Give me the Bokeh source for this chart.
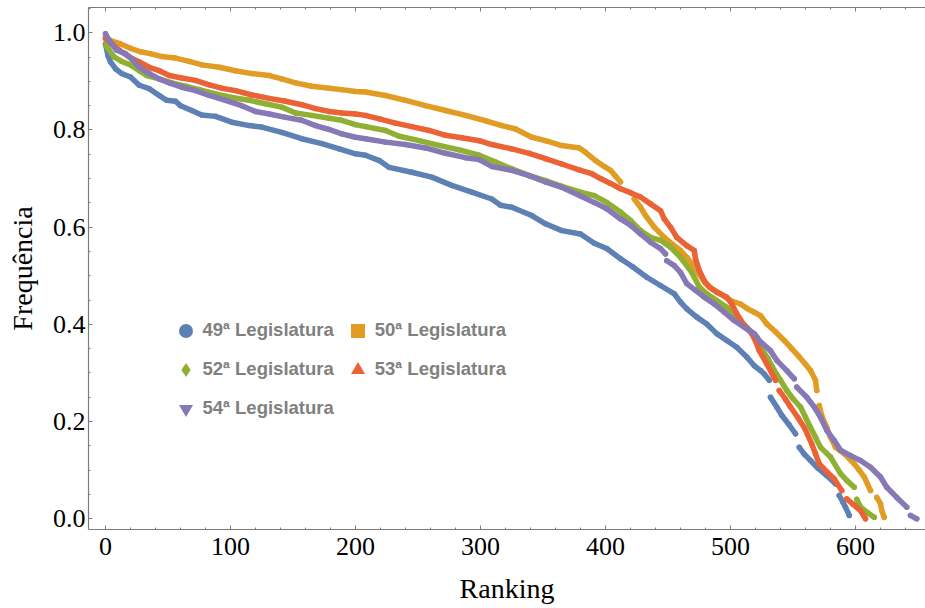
from bokeh.plotting import figure
from bokeh.models import (Range1d, LinearAxis, SingleIntervalTicker,
                          NumeralTickFormatter, Legend, LegendItem,
                          CustomLabelingPolicy)
from bokeh.embed import file_html
from bokeh.resources import INLINE

# ---------------------------------------------------------------------------
# Frequency of votes with the majority, deputies sorted by ranking
# ---------------------------------------------------------------------------
series_labels = ["49ª Legislatura", "50ª Legislatura", "52ª Legislatura",
                 "53ª Legislatura", "54ª Legislatura"]

rank_49 = [0, 2, 4, 8, 13, 20, 27, 35, 43, 49, 56, 60, 69, 77, 88, 101, 115, 125,
           141, 157, 173, 187, 200, 208, 219, 227, 245, 261, 277, 293, 309, 316,
           325, 341, 352, 365, 380, 391, 401, 412, 422, 433, 444, 455, 460, 465,
           473, 481, 489, 497, 505, 513, 519, 524, 527, 531,
           532, 537, 541, 547, 552,
           555, 559, 564, 570, 577, 584,
           587, 590, 592, 595]
freq_49 = [0.977, 0.953, 0.940, 0.926, 0.916, 0.909, 0.892, 0.885, 0.871, 0.861,
           0.859, 0.850, 0.840, 0.831, 0.828, 0.816, 0.809, 0.806, 0.795, 0.782,
           0.772, 0.761, 0.751, 0.748, 0.737, 0.723, 0.713, 0.703, 0.686, 0.672,
           0.658, 0.645, 0.641, 0.624, 0.607, 0.593, 0.586, 0.567, 0.556, 0.535,
           0.518, 0.497, 0.480, 0.463, 0.446, 0.432, 0.415, 0.401, 0.381, 0.367,
           0.353, 0.333, 0.315, 0.305, 0.298, 0.285,
           0.250, 0.230, 0.213, 0.193, 0.175,
           0.147, 0.133, 0.120, 0.104, 0.089, 0.072,
           0.048, 0.034, 0.024, 0.007]
breaks_49 = [531, 552, 584]

rank_50 = [0, 4, 12, 20, 28, 36, 45, 56, 67, 77, 91, 104, 117, 131, 141, 152, 165,
           179, 189, 200, 208, 224, 240, 256, 272, 288, 304, 317, 328, 341, 352,
           365, 379, 384, 392, 399, 404, 408, 412,
           423, 428, 432, 439, 447, 453, 460, 465, 469, 475, 480, 486, 492, 500,
           508, 513, 519, 524, 529, 536, 543, 549, 555, 560, 564, 568, 569,
           571, 573, 577, 580, 584, 591, 599, 603, 607, 612,
           617, 620, 621, 623]
freq_50 = [0.991, 0.984, 0.977, 0.968, 0.961, 0.957, 0.951, 0.948, 0.941, 0.934,
           0.929, 0.922, 0.916, 0.912, 0.905, 0.897, 0.890, 0.886, 0.883, 0.879,
           0.878, 0.871, 0.861, 0.850, 0.840, 0.830, 0.819, 0.809, 0.802, 0.785,
           0.778, 0.768, 0.763, 0.754, 0.737, 0.725, 0.717, 0.705, 0.693,
           0.658, 0.641, 0.624, 0.600, 0.579, 0.566, 0.552, 0.538, 0.525, 0.503,
           0.484, 0.472, 0.463, 0.449, 0.442, 0.433, 0.425, 0.418, 0.401, 0.385,
           0.367, 0.350, 0.333, 0.318, 0.305, 0.285, 0.264,
           0.233, 0.212, 0.188, 0.168, 0.147, 0.134, 0.113, 0.100, 0.086, 0.058,
           0.044, 0.031, 0.017, 0.003]
breaks_50 = [412, 569, 612]

rank_52 = [0, 3, 7, 13, 20, 27, 33, 43, 53, 64, 75, 88, 101, 115, 128, 141, 152,
           165, 179, 189, 200, 208, 224, 235, 251, 267, 283, 299, 312, 325, 339,
           352, 365, 380, 391, 401, 412, 420, 428, 436, 444, 452, 460, 469, 475,
           481, 489, 497, 505, 513, 521, 524, 530, 535, 540, 545, 550, 556, 560,
           564, 568, 572, 580, 588, 593, 599,
           601, 604, 610, 615]
freq_52 = [0.975, 0.964, 0.950, 0.941, 0.934, 0.922, 0.912, 0.905, 0.897, 0.890,
           0.883, 0.874, 0.867, 0.861, 0.854, 0.847, 0.835, 0.830, 0.824, 0.820,
           0.811, 0.807, 0.799, 0.787, 0.778, 0.768, 0.759, 0.748, 0.734, 0.720,
           0.706, 0.696, 0.684, 0.672, 0.665, 0.651, 0.631, 0.614, 0.593, 0.579,
           0.573, 0.559, 0.538, 0.507, 0.477, 0.463, 0.449, 0.435, 0.415, 0.394,
           0.374, 0.353, 0.330, 0.305, 0.285, 0.264, 0.247, 0.230, 0.209, 0.188,
           0.168, 0.147, 0.127, 0.093, 0.079, 0.065,
           0.040, 0.024, 0.012, 0.003]
breaks_52 = [599]

rank_53 = [0, 5, 11, 19, 27, 35, 43, 51, 61, 72, 83, 93, 104, 117, 131, 144, 157,
           168, 179, 189, 200, 208, 219, 232, 245, 259, 272, 285, 299, 309, 325,
           339, 352, 365, 380, 389, 396, 404, 412, 420, 428, 436, 444, 447, 452,
           457, 465, 471, 472, 475, 479, 483, 489, 497, 501, 505, 511, 517, 521,
           523, 529, 536,
           539, 544, 548, 554, 559, 565, 568, 571, 577, 583, 589,
           593, 598, 604, 608]
freq_53 = [0.988, 0.977, 0.964, 0.950, 0.940, 0.929, 0.922, 0.912, 0.907, 0.902,
           0.893, 0.886, 0.881, 0.872, 0.865, 0.859, 0.852, 0.844, 0.838, 0.835,
           0.833, 0.830, 0.823, 0.814, 0.807, 0.799, 0.789, 0.784, 0.778, 0.770,
           0.761, 0.752, 0.741, 0.730, 0.717, 0.710, 0.700, 0.690, 0.679, 0.671,
           0.662, 0.648, 0.634, 0.617, 0.600, 0.579, 0.562, 0.552, 0.535, 0.511,
           0.490, 0.477, 0.466, 0.456, 0.442, 0.422, 0.398, 0.381, 0.360, 0.346,
           0.319, 0.285,
           0.264, 0.246, 0.230, 0.208, 0.188, 0.154, 0.134, 0.113, 0.097, 0.082,
           0.058,
           0.041, 0.030, 0.017, 0.000]
breaks_53 = [536, 589]

rank_54 = [0, 3, 5, 9, 16, 21, 27, 35, 43, 51, 61, 72, 83, 96, 109, 120, 131, 144,
           157, 168, 179, 189, 200, 208, 224, 240, 256, 272, 288, 299, 309, 325,
           339, 352, 365, 380, 391, 401, 412, 420, 428, 436, 444, 448,
           449, 455, 460, 465, 472, 479, 487, 495, 503, 511, 519, 524, 532, 537,
           545, 551,
           553, 561, 567, 572, 577, 583, 588, 596, 604, 612, 620, 625, 633, 641,
           644, 649]
freq_54 = [0.998, 0.984, 0.977, 0.964, 0.957, 0.946, 0.929, 0.916, 0.905, 0.897,
           0.888, 0.881, 0.871, 0.861, 0.850, 0.838, 0.833, 0.826, 0.820, 0.809,
           0.801, 0.792, 0.785, 0.782, 0.775, 0.770, 0.763, 0.752, 0.743, 0.739,
           0.725, 0.717, 0.706, 0.693, 0.682, 0.664, 0.651, 0.638, 0.617, 0.604,
           0.586, 0.569, 0.556, 0.545,
           0.531, 0.521, 0.507, 0.484, 0.470, 0.456, 0.442, 0.425, 0.408, 0.394,
           0.381, 0.364, 0.346, 0.326, 0.305, 0.288,
           0.271, 0.250, 0.230, 0.209, 0.182, 0.161, 0.141, 0.130, 0.120, 0.106,
           0.086, 0.065, 0.044, 0.024,
           0.007, 0.000]
breaks_54 = [448, 551, 641]

x_ticks_interval = 100
y_ticks_interval = 0.2

colors = ["#5E81B5", "#E19C24", "#8FB032", "#EB6235", "#8778B6"]
markers = ["circle", "square", "diamond", "triangle", "inverted_triangle"]

series = [(rank_49, freq_49, breaks_49), (rank_50, freq_50, breaks_50),
          (rank_52, freq_52, breaks_52), (rank_53, freq_53, breaks_53),
          (rank_54, freq_54, breaks_54)]

NAN = float("nan")


def split_at(ranks, freqs, breaks):
    """Insert NaN after each break rank so the chain of dots is interrupted."""
    xs, ys = [], []
    for r, f in zip(ranks, freqs):
        xs.append(r)
        ys.append(f)
        if r in breaks:
            xs.append(NAN)
            ys.append(NAN)
    return xs, ys


AXIS_GRAY = "#7c7c7c"
SERIF = "Liberation Serif"

p = figure(width=925, height=608, output_backend="svg", toolbar_location=None,
           x_range=Range1d(-13.6, 656), y_range=Range1d(-0.022, 1.052),
           x_axis_location=None, y_axis_location=None,
           min_border_left=88, min_border_right=0, min_border_top=7,
           min_border_bottom=79, outline_line_color=None,
           background_fill_color="white", border_fill_color="white")
p.xgrid.visible = False
p.ygrid.visible = False


def style_axis(ax):
    ax.axis_line_color = AXIS_GRAY
    ax.axis_line_width = 1.2
    ax.major_tick_line_color = AXIS_GRAY
    ax.minor_tick_line_color = AXIS_GRAY
    ax.major_tick_in = 4
    ax.major_tick_out = 0
    ax.minor_tick_in = 2
    ax.minor_tick_out = 0
    ax.major_label_text_font = SERIF
    ax.major_label_text_font_size = "26px"
    ax.major_label_text_line_height = 1.0
    ax.major_label_text_color = "black"
    ax.axis_label_text_font = SERIF
    ax.axis_label_text_font_size = "28px"
    ax.axis_label_text_line_height = 1.0
    ax.axis_label_text_font_style = "normal"
    ax.axis_label_text_color = "black"


x_bottom = LinearAxis(ticker=SingleIntervalTicker(interval=x_ticks_interval, num_minor_ticks=5),
                      axis_label="Ranking")
style_axis(x_bottom)
x_bottom.major_label_standoff = 8
x_bottom.axis_label_standoff = 15
p.add_layout(x_bottom, "below")

# mirrored ticks along the top edge, without labels
x_top = LinearAxis(ticker=SingleIntervalTicker(interval=x_ticks_interval, num_minor_ticks=5))
style_axis(x_top)
x_top.major_label_text_font_size = "0px"
x_top.major_label_standoff = 0
x_top.major_label_policy = CustomLabelingPolicy(
    code="for (const i of indices) { indices.unset(i) } return indices")
p.add_layout(x_top, "above")

y_left = LinearAxis(ticker=SingleIntervalTicker(interval=y_ticks_interval, num_minor_ticks=4),
                    formatter=NumeralTickFormatter(format="0.0"),
                    axis_label="Frequência")
style_axis(y_left)
y_left.major_label_standoff = 3
y_left.axis_label_standoff = 12
p.add_layout(y_left, "left")

# data: a dense chain of dots for every legislature
for (ranks, freqs, breaks), color in zip(series, colors):
    xs, ys = split_at(ranks, freqs, breaks)
    p.line(xs, ys, line_color=color, line_width=5.5, line_cap="round", line_join="round")
    p.scatter(ranks, freqs, marker="circle", size=5.5, fill_color=color, line_color=None)

# legend symbols (renderers with no visible point)
legend_renderers = [p.scatter([NAN], [NAN], marker=m, fill_color=c, line_color=None)
                    for m, c in zip(markers, colors)]

legend_style = dict(orientation="horizontal", glyph_width=35, glyph_height=35,
                    label_standoff=0, spacing=6, padding=0, margin=0,
                    border_line_color=None, background_fill_alpha=0,
                    label_text_font="Liberation Sans", label_text_font_size="18.5px",
                    label_text_font_style="bold", label_text_color="#808080")

rows = [[0, 1], [2, 3], [4]]
row_offsets = [181.5, 142.5, 103.5]
for idx_list, y_off in zip(rows, row_offsets):
    items = [LegendItem(label=series_labels[i], renderers=[legend_renderers[i]])
             for i in idx_list]
    leg = Legend(items=items, location=(79.5, y_off), **legend_style)
    p.add_layout(leg, "center")

open("out.html", "w").write(file_html(p, INLINE))
